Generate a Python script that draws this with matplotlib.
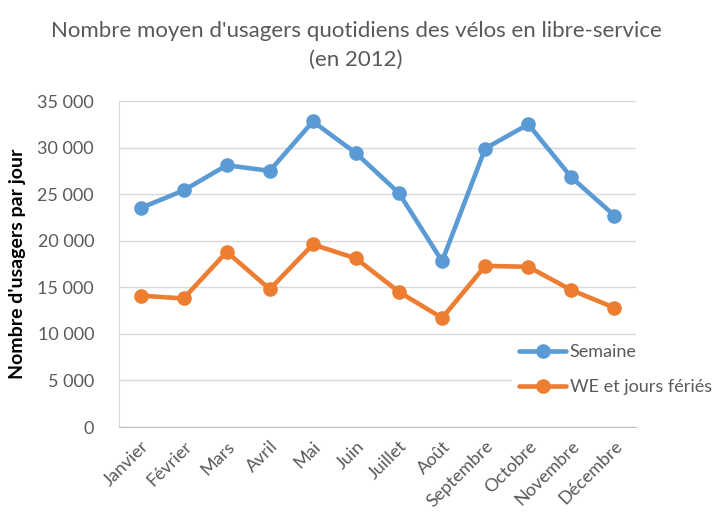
import matplotlib
matplotlib.use("Agg")
import matplotlib.pyplot as plt
from matplotlib.ticker import FuncFormatter

months = ["Janvier", "Février", "Mars", "Avril", "Mai", "Juin", "Juillet",
          "Août", "Septembre", "Octobre", "Novembre", "Décembre"]
semaine = [23500, 25400, 28100, 27500, 32800, 29400, 25100, 17800, 29900, 32500, 26800, 22700]
we_feries = [14100, 13800, 18800, 14800, 19600, 18100, 14500, 11700, 17300, 17200, 14700, 12800]
yticks = [0, 5000, 10000, 15000, 20000, 25000, 30000, 35000]

plt.rcParams['font.family'] = ['Lato', 'DejaVu Sans']
gray = '#595959'

fig = plt.figure(figsize=(7.12, 5.17), dpi=100)
ax = fig.add_axes([119/712, 1-427/517, (636-119)/712, (427-101)/517])

x = list(range(len(months)))
ax.plot(x, semaine, color='#5B9BD5', lw=3.3, marker='o', ms=9.5, label='Semaine', solid_capstyle='round')
ax.plot(x, we_feries, color='#ED7D31', lw=3.3, marker='o', ms=9.5, label='WE et jours fériés', solid_capstyle='round')

ax.set_xlim(-0.5, len(months) - 0.5)
ax.set_ylim(0, 35000)
ax.set_yticks(yticks)
ax.yaxis.set_major_formatter(FuncFormatter(lambda v, p: f"{int(v):,}".replace(",", " ")))
ax.set_xticks(x)
ax.set_xticklabels(months, rotation=45, ha='right', rotation_mode='anchor')
ax.tick_params(axis='both', length=0, colors=gray, labelsize=13)
ax.tick_params(axis='y', pad=18)
ax.tick_params(axis='x', pad=8)
ax.grid(axis='y', color='#d9d9d9', lw=1)
ax.set_axisbelow(True)
for s in ['top', 'right']:
    ax.spines[s].set_visible(False)
ax.spines['left'].set_color('#d9d9d9')
ax.spines['bottom'].set_color('#bfbfbf')

ax.set_ylabel("Nombre d'usagers par jour", fontsize=14, fontweight='bold', color='black', labelpad=8)

fig.suptitle("Nombre moyen d'usagers quotidiens des vélos en libre-service\n(en 2012)",
             fontsize=16, color=gray, y=0.96, linespacing=1.55)

leg = fig.legend(loc='upper left', bbox_to_anchor=(503/712, 1-328/517), frameon=True,
                 fontsize=13, labelspacing=1.05, handlelength=2.6, handletextpad=0.2,
                 borderpad=0.4, labelcolor=gray)
leg.get_frame().set_edgecolor('none')
leg.get_frame().set_facecolor('white')
leg.get_frame().set_alpha(1)

fig.savefig("out.png", dpi=100)
